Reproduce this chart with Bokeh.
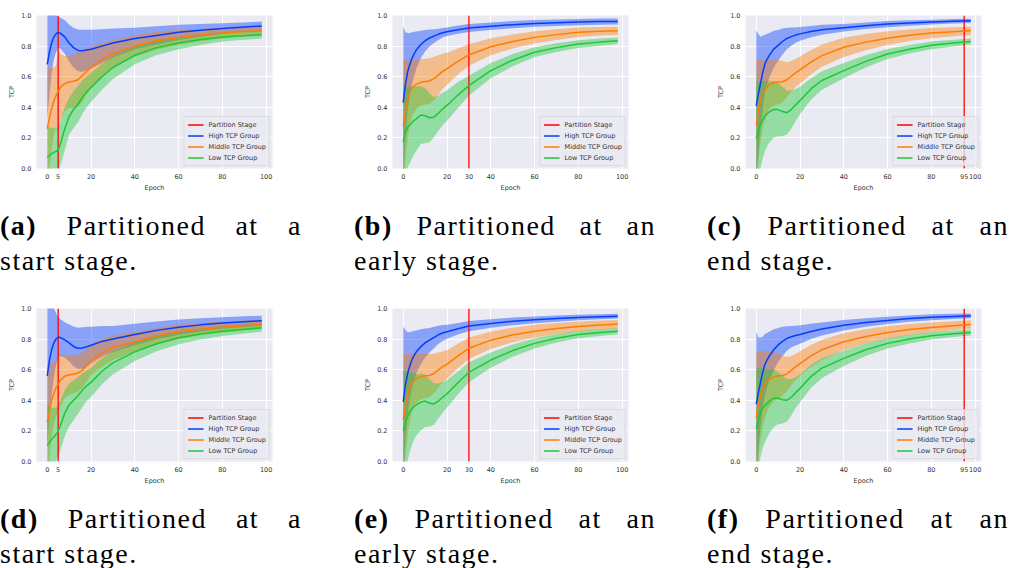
import numpy as np
from bokeh.plotting import figure
from bokeh.layouts import column, row
from bokeh.models import Div, Legend, LegendItem, FixedTicker, PrintfTickFormatter, Range1d
from bokeh.embed import file_html
from bokeh.resources import INLINE

# ---------------- data ----------------
epochs = [0, 1, 2, 3, 4, 5, 6, 8, 10, 12, 14, 16, 18, 20, 25, 30, 40, 50, 60, 70, 80, 90, 98]

a_high_mean = [.68, .76, .82, .86, .88, .89, .885, .86, .82, .79, .772, .77, .775, .78, .80, .82, .85, .87, .89, .903, .915, .925, .932]
a_high_sd = [.36, .28, .2, .15, .12, .1, .1, .11, .12, .13, .137, .137, .132, .127, .11, .095, .07, .06, .05, .042, .035, .03, .028]
a_mid_mean = [.26, .33, .39, .44, .475, .505, .53, .555, .565, .57, .58, .605, .635, .66, .71, .75, .80, .835, .857, .872, .885, .895, .90]
a_mid_sd = [.4, .33, .27, .22, .2, .28, .22, .18, .17, .175, .18, .17, .15, .135, .11, .09, .07, .058, .048, .04, .035, .03, .028]
a_low_mean = [.075, .085, .095, .105, .112, .12, .16, .26, .34, .385, .42, .465, .50, .53, .60, .66, .74, .79, .82, .843, .86, .868, .874]
a_low_sd = [.2, .185, .17, .16, .155, .15, .14, .14, .12, .12, .12, .11, .10, .095, .085, .075, .058, .048, .04, .035, .03, .027, .025]

b_high_mean = [.43, .55, .63, .68, .72, .75, .775, .81, .835, .853, .865, .877, .887, .894, .907, .918, .93, .94, .948, .953, .957, .96, .961]
b_high_sd = [.5, .34, .255, .205, .17, .143, .121, .09, .07, .055, .045, .037, .031, .028, .027, .026, .025, .024, .022, .021, .02, .02, .02]
b_mid_mean = [.28, .38, .45, .50, .525, .54, .55, .563, .568, .572, .588, .61, .635, .652, .70, .742, .796, .83, .857, .875, .89, .897, .90]
b_mid_sd = [.43, .33, .26, .21, .185, .17, .16, .152, .15, .148, .143, .13, .115, .105, .085, .07, .055, .046, .04, .035, .031, .028, .027]
b_low_mean = [.173, .235, .27, .285, .30, .315, .325, .35, .345, .332, .335, .36, .39, .412, .48, .542, .64, .708, .76, .79, .813, .826, .835]
b_low_sd = [.38, .3, .265, .25, .235, .22, .21, .19, .18, .16, .13, .115, .105, .1, .085, .065, .05, .04, .032, .028, .025, .023, .022]

c_high_mean = [.41, .49, .56, .63, .685, .715, .74, .78, .805, .83, .85, .862, .872, .88, .895, .907, .92, .933, .944, .951, .957, .962, .965]
c_high_sd = [.49, .39, .3, .24, .19, .165, .145, .12, .1, .085, .07, .06, .05, .045, .037, .032, .025, .022, .02, .018, .016, .015, .014]
c_mid_mean = [.282, .38, .445, .49, .515, .535, .55, .56, .565, .567, .58, .603, .625, .644, .695, .738, .792, .826, .852, .871, .885, .894, .90]
c_mid_sd = [.43, .33, .265, .22, .195, .175, .16, .15, .145, .135, .115, .1, .092, .088, .08, .073, .063, .053, .045, .038, .033, .029, .027]
c_low_mean = [.195, .25, .29, .32, .343, .358, .37, .387, .385, .372, .365, .385, .415, .445, .52, .575, .64, .70, .748, .78, .805, .82, .83]
c_low_sd = [.38, .32, .28, .25, .228, .212, .2, .185, .175, .16, .145, .125, .105, .09, .07, .06, .05, .04, .033, .028, .025, .022, .02]

d_high_mean = [.56, .66, .73, .775, .80, .812, .81, .795, .775, .752, .74, .742, .75, .76, .785, .80, .83, .857, .878, .893, .905, .914, .92]
d_high_sd = [.47, .38, .3, .23, .17, .13, .12, .115, .12, .13, .135, .135, .13, .12, .1, .085, .07, .058, .05, .043, .038, .035, .033]
d_mid_mean = [.255, .33, .4, .445, .48, .505, .53, .557, .567, .57, .578, .595, .63, .663, .71, .745, .783, .82, .848, .865, .878, .888, .896]
d_mid_sd = [.39, .31, .24, .2, .185, .19, .17, .14, .13, .125, .12, .115, .105, .1, .09, .08, .065, .055, .047, .04, .035, .032, .03]
d_low_mean = [.105, .125, .145, .16, .178, .196, .235, .315, .37, .4, .43, .465, .495, .517, .59, .645, .717, .77, .809, .834, .852, .865, .874]
d_low_sd = [.27, .24, .21, .19, .175, .165, .16, .15, .14, .13, .12, .11, .1, .095, .085, .075, .06, .05, .042, .036, .032, .028, .026]

e_high_mean = [.39, .5, .575, .625, .665, .695, .717, .75, .775, .793, .81, .828, .84, .848, .868, .885, .902, .916, .926, .934, .941, .946, .95]
e_high_sd = [.49, .36, .27, .22, .185, .16, .14, .115, .095, .08, .07, .06, .052, .046, .038, .033, .028, .025, .022, .02, .018, .017, .016]
e_mid_mean = [.272, .37, .44, .485, .515, .532, .543, .555, .56, .562, .575, .597, .62, .635, .69, .74, .793, .827, .852, .87, .883, .892, .898]
e_mid_sd = [.43, .33, .265, .22, .19, .17, .16, .15, .145, .14, .13, .115, .1, .092, .08, .07, .057, .048, .041, .036, .032, .029, .027]
e_low_mean = [.2, .26, .295, .325, .345, .36, .37, .388, .395, .382, .376, .395, .42, .443, .515, .583, .663, .725, .772, .805, .83, .843, .852]
e_low_sd = [.39, .33, .29, .26, .235, .215, .2, .185, .17, .155, .135, .115, .1, .09, .075, .065, .05, .04, .033, .028, .025, .022, .02]

f_high_mean = [.375, .45, .52, .585, .635, .665, .69, .73, .762, .785, .804, .815, .823, .83, .85, .866, .891, .908, .922, .934, .943, .948, .952]
f_high_sd = [.475, .36, .29, .23, .2, .175, .16, .135, .11, .095, .08, .07, .065, .06, .05, .042, .034, .028, .024, .021, .019, .017, .016]
f_mid_mean = [.285, .37, .435, .475, .505, .525, .54, .553, .56, .561, .573, .595, .62, .64, .69, .73, .783, .817, .843, .862, .876, .888, .896]
f_mid_sd = [.43, .35, .285, .245, .215, .195, .18, .16, .15, .13, .11, .095, .085, .08, .072, .066, .056, .048, .042, .036, .032, .029, .027]
f_low_mean = [.215, .28, .325, .35, .367, .38, .395, .415, .413, .404, .4, .42, .45, .478, .555, .61, .674, .73, .772, .8, .822, .835, .843]
f_low_sd = [.39, .33, .29, .26, .24, .225, .21, .19, .17, .155, .14, .12, .1, .09, .075, .065, .05, .04, .033, .028, .025, .022, .02]

partition_epochs = {"a": 5, "b": 30, "c": 95, "d": 5, "e": 30, "f": 95}
x_ticks = {
    "a": [0, 5, 20, 40, 60, 80, 100],
    "b": [0, 20, 30, 40, 60, 80, 100],
    "c": [0, 20, 40, 60, 80, 95, 100],
}
y_ticks = [0.0, 0.2, 0.4, 0.6, 0.8, 1.0]

group_labels = ["High TCP Group", "Middle TCP Group", "Low TCP Group"]
partition_label = "Partition Stage"
caption_first = ["Partitioned at a", "Partitioned at an", "Partitioned at an"]
caption_second = ["start stage.", "early stage.", "end stage."]
letters = ["a", "b", "c", "d", "e", "f"]

# ---------------- styling ----------------
COLORS = ["#023eff", "#ff7c00", "#1ac938"]
RED = "#ff0000"
BG = "#eaeaf2"
FONT = "DejaVu Sans"

series = {
    "a": [(a_high_mean, a_high_sd), (a_mid_mean, a_mid_sd), (a_low_mean, a_low_sd)],
    "b": [(b_high_mean, b_high_sd), (b_mid_mean, b_mid_sd), (b_low_mean, b_low_sd)],
    "c": [(c_high_mean, c_high_sd), (c_mid_mean, c_mid_sd), (c_low_mean, c_low_sd)],
    "d": [(d_high_mean, d_high_sd), (d_mid_mean, d_mid_sd), (d_low_mean, d_low_sd)],
    "e": [(e_high_mean, e_high_sd), (e_mid_mean, e_mid_sd), (e_low_mean, e_low_sd)],
    "f": [(f_high_mean, f_high_sd), (f_mid_mean, f_mid_sd), (f_low_mean, f_low_sd)],
}

FRAME_W = 236
col_borders = [(36, 68), (52, 62), (55, 32)]  # (left, right) border per column


def make_panel(key, col):
    left, right = col_borders[col]
    p = figure(width=left + FRAME_W + right, height=200,
               x_range=Range1d(-4.9, 102.9), y_range=Range1d(0, 1),
               output_backend="svg", toolbar_location=None,
               min_border_left=left, min_border_right=right,
               min_border_top=15, min_border_bottom=32)
    p.background_fill_color = BG
    p.border_fill_color = "white"
    p.outline_line_color = None
    p.grid.grid_line_color = "white"
    p.grid.grid_line_width = 1

    x = np.array(epochs, dtype=float)
    for color, (m, s) in zip(COLORS, series[key]):
        m = np.array(m)
        s = np.array(s)
        p.varea(x=x, y1=m - s, y2=m + s, fill_color=color, fill_alpha=0.42)

    pe = partition_epochs[key]
    r_red = p.line([pe, pe], [y_ticks[0], y_ticks[-1]], line_color=RED, line_width=1.3)
    items = [LegendItem(label=partition_label, renderers=[r_red])]
    for color, (m, s), lab in zip(COLORS, series[key], group_labels):
        r = p.line(x, m, line_color=color, line_width=1.5)
        items.append(LegendItem(label=lab, renderers=[r]))

    p.xaxis.ticker = FixedTicker(ticks=x_ticks["abc"[col]])
    p.yaxis.ticker = FixedTicker(ticks=y_ticks)
    p.yaxis.formatter = PrintfTickFormatter(format="%.1f")
    p.xaxis.axis_label = "Epoch"
    p.yaxis.axis_label = "TCP"
    for ax in p.axis:
        ax.axis_line_color = None
        ax.major_tick_line_color = None
        ax.minor_tick_line_color = None
        ax.major_tick_out = 0
        ax.major_tick_in = 0
        ax.minor_tick_out = 0
        ax.minor_tick_in = 0
        ax.major_label_text_font_size = "6.5px"
        ax.major_label_text_font = FONT
        ax.major_label_text_color = "#333333"
        ax.axis_label_text_font_size = "6.5px"
        ax.axis_label_text_font = FONT
        ax.axis_label_text_font_style = "normal"
        ax.axis_label_text_color = "#333333"
        ax.major_label_standoff = 5
        ax.axis_label_standoff = 2

    legend = Legend(items=items, location="bottom_right",
                    label_text_font_size="6.5px", label_text_font=FONT,
                    label_text_color="#333333",
                    glyph_width=16, glyph_height=9, label_height=9,
                    label_standoff=5, spacing=2, padding=3, margin=2,
                    background_fill_color=BG, background_fill_alpha=0.8,
                    border_line_color="#cccccc", border_line_width=1)
    p.add_layout(legend)
    return p


cap_offsets = [(0, 340), (14, 350), (17, 323)]  # (margin-left, cell width)


def make_caption(letter, col, height):
    ml, w = cap_offsets[col]
    html = (
        f'<div style="margin-left:{ml}px;padding-top:8px;width:302px;'
        f"font-family:'Liberation Serif',serif;font-size:28px;line-height:35px;"
        f'letter-spacing:1.5px;color:#000;">'
        f'<div style="text-align:justify;text-align-last:justify;">'
        f'<b>({letter})</b> {caption_first[col]}</div>'
        f'<div>{caption_second[col]}</div></div>'
    )
    return Div(text=html, width=w, height=height, margin=0)


row1 = row([make_panel(k, i) for i, k in enumerate(letters[:3])], spacing=0)
cap1 = row([make_caption(k, i, 93) for i, k in enumerate(letters[:3])], spacing=0)
row2 = row([make_panel(k, i) for i, k in enumerate(letters[3:])], spacing=0)
cap2 = row([make_caption(k, i, 75) for i, k in enumerate(letters[3:])], spacing=0)
layout = column([row1, cap1, row2, cap2], spacing=0)

open("out.html", "w").write(file_html(layout, INLINE))
